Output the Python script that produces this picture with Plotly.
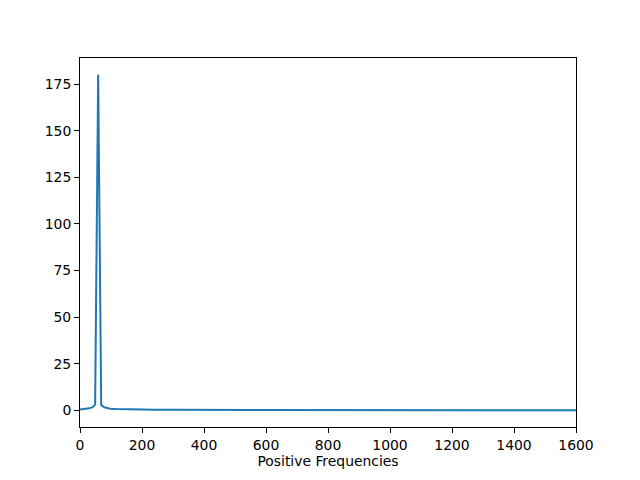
import plotly.graph_objects as go

freqs = [0, 9.8, 19.5, 29.3, 39.1, 48.8, 58.6, 68.4, 78.1, 87.9, 97.7, 117, 147, 195, 244,
         293, 391, 488, 586, 684, 781, 879, 977, 1074, 1172, 1270, 1367, 1465, 1563, 1660]
mags = [0.4, 0.5, 0.7, 1.0, 1.5, 3.0, 180.0, 2.8, 1.6, 1.1, 0.85, 0.6, 0.45, 0.32, 0.25,
        0.2, 0.15, 0.12, 0.1, 0.08, 0.07, 0.06, 0.055, 0.05, 0.045, 0.04, 0.037, 0.034,
        0.032, 0.03]
xticks = [0, 200, 400, 600, 800, 1000, 1200, 1400, 1600]
yticks = [0, 25, 50, 75, 100, 125, 150, 175]

fig = go.Figure(go.Scatter(x=freqs, y=mags, mode="lines",
                           line=dict(color="#1f77b4", width=2)))

axis_common = dict(showgrid=False, zeroline=False, showline=True, linecolor="black",
                   linewidth=1, mirror=True, ticks="outside", ticklen=5, tickwidth=1,
                   tickcolor="black", tickfont=dict(size=13.9, color="black"),
                   automargin=False)

# page body has an 8px margin, so the figure is offset by 8px
fig.update_layout(
    width=632, height=472,
    margin=dict(l=72, r=64, t=50, b=53, autoexpand=False),
    paper_bgcolor="white", plot_bgcolor="white",
    font=dict(family="DejaVu Sans", size=13.9, color="black"),
    showlegend=False,
    xaxis=dict(range=[0, 1600], tickvals=xticks,
               title=dict(text="Positive Frequencies", standoff=4,
                          font=dict(size=13.9, color="black")), **axis_common),
    yaxis=dict(range=[-9, 189], tickvals=yticks, **axis_common),
)

fig.write_html("out.html")
